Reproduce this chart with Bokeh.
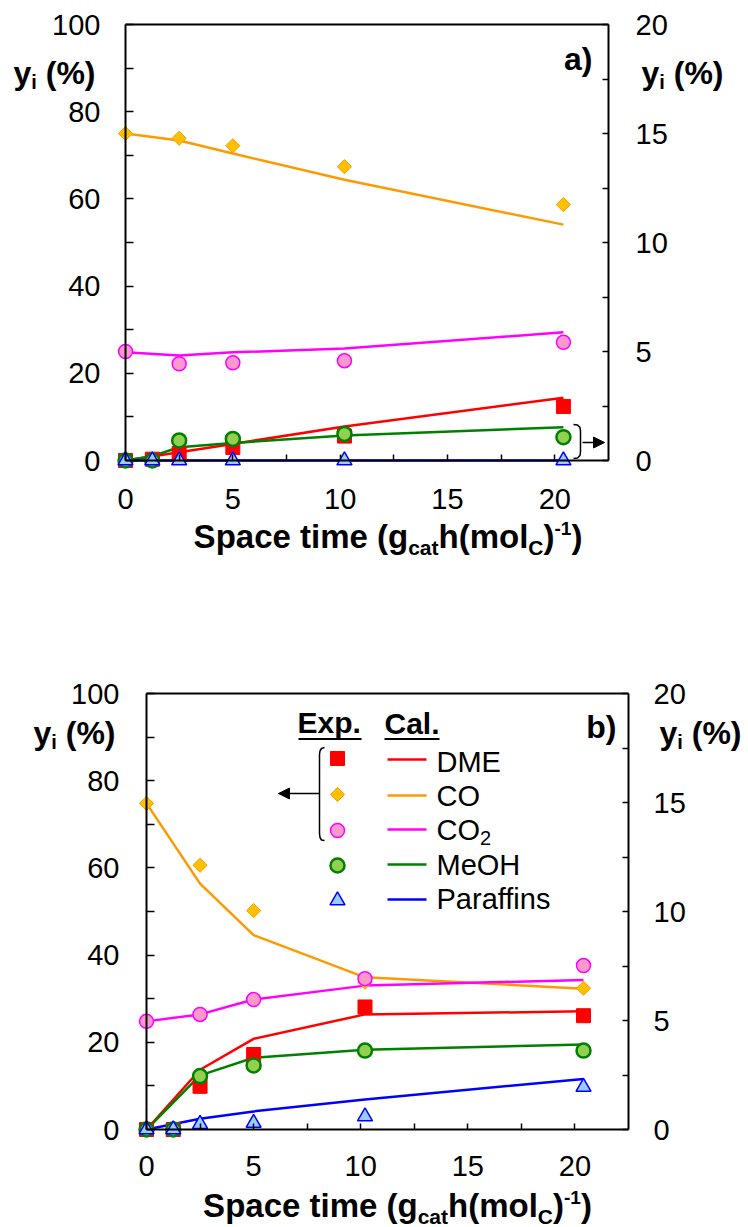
from bokeh.plotting import figure
from bokeh.models import Range1d, LinearAxis, FixedTicker, Label, Arrow, NormalHead
from bokeh.layouts import column
from bokeh.embed import file_html
from bokeh.resources import INLINE

# ---------------- data ----------------
# x (space time) values
x_exp6 = [0, 1.25, 2.5, 5, 10.2, 20.4]
x_exp5 = [0, 2.5, 5, 10.2, 20.4]
x_cal5 = [0, 2.5, 5, 10.2, 20.4]
x_cal6 = [0, 1.25, 2.5, 5, 10.2, 20.4]

# panel a) -- DME, CO, CO2 on left axis; MeOH, Paraffins on right axis
a_dme_exp = [0, 0.3, 1.6, 3.0, 5.6, 12.4]
a_dme_cal = [0, 1.9, 3.8, 7.8, 14.4]
a_co_exp = [75.0, 73.9, 72.2, 67.4, 58.7]
a_co_cal = [75.0, 73.4, 70.4, 64.4, 54.1]
a_co2_exp = [25.0, 22.2, 22.4, 22.9, 27.1]
a_co2_cal = [24.8, 24.1, 24.8, 25.7, 29.4]
a_meoh_exp = [0, 0, 0.92, 0.99, 1.22, 1.07]
a_meoh_cal = [0, 0.2, 0.61, 0.8, 1.15, 1.53]
a_par_exp = [0, 0, 0, 0, 0, 0]
a_par_cal = [0, 0, 0, 0, 0]

# panel b)
b_dme_exp = [0, 0, 9.9, 17.2, 28.1, 26.1]
b_dme_cal = [0, 13.7, 20.8, 26.4, 27.1]
b_co_exp = [74.8, 60.6, 50.2, 33.8, 32.4]
b_co_cal = [74.8, 56.4, 44.6, 34.9, 32.3]
b_co2_exp = [24.8, 26.4, 29.8, 34.6, 37.6]
b_co2_cal = [24.8, 26.4, 29.8, 33.0, 34.3]
b_meoh_exp = [0, 0, 2.45, 2.94, 3.62, 3.62]
b_meoh_cal = [0, 2.48, 3.29, 3.66, 3.9]
b_par_exp = [0, 0, 0.25, 0.3, 0.6, 1.95]
b_par_cal = [0, 0.49, 0.83, 1.38, 2.32]

x_ticks = [0, 5, 10, 15, 20]
x_minor = [2.5, 7.5, 12.5, 17.5]
yl_ticks = [0, 20, 40, 60, 80, 100]
yl_minor = [10, 30, 50, 70, 90]
yr_ticks = [0, 5, 10, 15, 20]
yr_minor = [2.5, 7.5, 12.5, 17.5]
X_MAX, YL_MAX, YR_MAX = 22.5, 100.0, 20.0

species = ["DME", "CO", "CO2", "MeOH", "Paraffins"]

# ---------------- styles ----------------
FONT = "Liberation Sans"
LINE_COL = {"DME": "#FF0000", "CO": "#FF9900", "CO2": "#FF00FF",
            "MeOH": "#008000", "Paraffins": "#0000FF"}
MK = {
    "DME": dict(marker="square", size=14, fill_color="#FF0000", line_color="#FF0000", line_width=1, angle=0.0),
    "CO": dict(marker="square", size=10, fill_color="#FFC000", line_color="#FF9900", line_width=1, angle=0.785398),
    "CO2": dict(marker="circle", size=14, fill_color="#FF99CC", line_color="#FF00FF", line_width=1.5, angle=0.0),
    "MeOH": dict(marker="circle", size=14, fill_color="#92D050", line_color="#008000", line_width=2.5, angle=0.0),
    "Paraffins": dict(marker="triangle", size=15, fill_color="#99CCFF", line_color="#0000FF", line_width=1.5, angle=0.0),
}

BOLD_W = {'S': 667, 'p': 611, 'a': 556, 'c': 556, 'e': 556, ' ': 278, 't': 333, 'i': 278,
          'm': 889, '(': 333, ')': 333, 'g': 611, 'h': 611, 'o': 611, 'l': 278, 'C': 722,
          '-': 333, '1': 556, 'y': 556, '%': 889, 'E': 667, 'x': 556, '.': 278, 'b': 611}
REG_W = {'D': 722, 'M': 833, 'E': 667, 'C': 722, 'O': 778, '2': 556, 'e': 556, 'H': 722,
         'P': 667, 'a': 556, 'r': 333, 'f': 278, 'i': 222, 'n': 556, 's': 500, ' ': 278}
BASE_K = 0.37  # shift so that the requested y is the alphabetic baseline


def text_w(t, size, bold):
    tab = BOLD_W if bold else REG_W
    return sum(tab.get(ch, 556) for ch in t) / 1000.0 * size


class Panel:
    """A figure whose frame covers its whole canvas; axes are placed with fixed_location."""

    def __init__(self, top, H, L, R, T, B):
        self.top, self.L, self.R, self.T, self.B = top, L, R, T, B
        self.fw, self.fh = R - L, B - T
        xr = Range1d(self.x(0), self.x(748))
        yr = Range1d(self.y(top + H), self.y(top))
        p = figure(frame_width=748, frame_height=H, min_border=0,
                   x_range=xr, y_range=yr,
                   output_backend="svg", toolbar_location=None,
                   background_fill_color="white", border_fill_color="white")
        k = YR_MAX / YL_MAX
        p.extra_y_ranges = {"right": Range1d(self.y(top + H) * k, self.y(top) * k)}
        p.xgrid.visible = False
        p.ygrid.visible = False
        p.outline_line_color = None
        self.p = p

    def x(self, X):
        return (X - self.L) / self.fw * X_MAX

    def y(self, Y):
        return (self.B - Y) / self.fh * YL_MAX

    def label(self, X, Y, text, size, bold=False, align="left"):
        self.p.add_layout(Label(x=self.x(X), y=self.y(Y - BASE_K * size), text=text,
                                text_font=FONT, text_font_size=f"{size}px",
                                text_font_style="bold" if bold else "normal",
                                text_align=align, text_baseline="alphabetic",
                                text_color="black"))

    def rich(self, X, Y, pieces, bold=True, center=False):
        total = sum(text_w(t, s, bold) for t, s, d in pieces)
        if center:
            X = X - total / 2.0
        for t, s, d in pieces:
            stripped = t.lstrip(" ")
            X += text_w(t[:len(t) - len(stripped)], s, bold)
            self.label(X, Y + d, stripped, s, bold)
            X += text_w(stripped, s, bold)


def style_axes(pan, left_standoff, right_standoff, bottom_standoff):
    p = pan.p
    common = dict(axis_line_color="black", axis_line_width=2,
                  major_tick_line_color="black", minor_tick_line_color="black",
                  major_tick_line_width=1.5, minor_tick_line_width=1.5,
                  major_tick_out=0, minor_tick_out=0,
                  major_label_text_font=FONT, major_label_text_font_size="29px",
                  major_label_text_color="black")
    xa = p.xaxis[0]
    xa.ticker = FixedTicker(ticks=x_ticks, minor_ticks=x_minor)
    for k, v in common.items():
        setattr(xa, k, v)
    xa.fixed_location = 0
    xa.bounds = (0, X_MAX)
    xa.major_tick_in = 6
    xa.minor_tick_in = 6
    xa.major_label_standoff = bottom_standoff

    ya = p.yaxis[0]
    ya.ticker = FixedTicker(ticks=yl_ticks, minor_ticks=yl_minor)
    for k, v in common.items():
        setattr(ya, k, v)
    ya.fixed_location = 0
    ya.bounds = (0, YL_MAX)
    ya.major_tick_in = 8
    ya.minor_tick_in = 8
    ya.major_label_standoff = left_standoff

    ra = LinearAxis(y_range_name="right",
                    ticker=FixedTicker(ticks=yr_ticks, minor_ticks=yr_minor))
    for k, v in common.items():
        setattr(ra, k, v)
    ra.fixed_location = X_MAX
    ra.bounds = (0, YR_MAX)
    ra.major_tick_in = 6
    ra.minor_tick_in = 6
    ra.major_label_standoff = right_standoff
    p.add_layout(ra, "right")
    # top border of the plot area
    p.line([0, X_MAX], [YL_MAX, YL_MAX], line_color="black", line_width=2)


def draw_data(pan, cal, exp):
    p = pan.p
    for sp in species:
        xs, ys, rng = cal[sp]
        p.line(xs, ys, line_color=LINE_COL[sp], line_width=2.5, y_range_name=rng)
    for sp in species:
        xs, ys, rng = exp[sp]
        p.scatter(xs, ys, y_range_name=rng, **MK[sp])


def bracket(pan, pts):
    pan.p.line([pan.x(a) for a, b in pts], [pan.y(b) for a, b in pts],
               line_color="black", line_width=1.5)


def arrow(pan, X0, X1, Y):
    pan.p.add_layout(Arrow(end=NormalHead(size=11, fill_color="black", line_color="black"),
                           x_start=pan.x(X0), y_start=pan.y(Y), x_end=pan.x(X1), y_end=pan.y(Y),
                           line_color="black", line_width=1.5))


ylab = [("y", 32, 0), ("i", 20, 5), (" (%)", 32, 0)]
xlab = [("Space time (g", 33, 0), ("cat", 21, 7), ("h(mol", 33, 0), ("C", 21, 7),
        (")", 33, 0), ("-1", 19, -13), (")", 33, 0)]

# ---------------- panel a ----------------
pa = Panel(top=0, H=613, L=125, R=608, T=24, B=460)
style_axes(pa, 25, 27, 28)
draw_data(pa,
          {"DME": (x_cal5, a_dme_cal, "default"), "CO": (x_cal5, a_co_cal, "default"),
           "CO2": (x_cal5, a_co2_cal, "default"), "MeOH": (x_cal6, a_meoh_cal, "right"),
           "Paraffins": (x_cal5, a_par_cal, "right")},
          {"DME": (x_exp6, a_dme_exp, "default"), "CO": (x_exp5, a_co_exp, "default"),
           "CO2": (x_exp5, a_co2_exp, "default"), "MeOH": (x_exp6, a_meoh_exp, "right"),
           "Paraffins": (x_exp6, a_par_exp, "right")})
bracket(pa, [(573, 424), (577, 424.5), (579.5, 427), (580, 431), (580, 451),
             (579.5, 455), (577, 457.5), (573, 458)])
arrow(pa, 582, 604, 442)
pa.rich(13, 84, ylab)
pa.rich(641, 84, ylab)
pa.label(592, 70, "a)", 32, bold=True, align="right")
pa.rich(387.5, 548, xlab, center=True)

# ---------------- panel b ----------------
pb = Panel(top=613, H=614, L=146, R=628, T=693, B=1129)
style_axes(pb, 27, 25, 26)
draw_data(pb,
          {"DME": (x_cal5, b_dme_cal, "default"), "CO": (x_cal5, b_co_cal, "default"),
           "CO2": (x_cal5, b_co2_cal, "default"), "MeOH": (x_cal5, b_meoh_cal, "right"),
           "Paraffins": (x_cal5, b_par_cal, "right")},
          {"DME": (x_exp6, b_dme_exp, "default"), "CO": (x_exp5, b_co_exp, "default"),
           "CO2": (x_exp5, b_co2_exp, "default"), "MeOH": (x_exp6, b_meoh_exp, "right"),
           "Paraffins": (x_exp6, b_par_exp, "right")})
pb.rich(33, 744, ylab)
pb.rich(659, 744, ylab)
pb.label(616, 738, "b)", 32, bold=True, align="right")
pb.rich(397, 1217, xlab, center=True)

# legend (manual)
leg_mk_y = [758, 794, 830, 865, 900]
leg_ln_y = [759, 795, 829, 864, 899]
leg_tx_y = [772, 806, 840, 875, 909]
for sp, my, ly in zip(species, leg_mk_y, leg_ln_y):
    pb.p.scatter([pb.x(337)], [pb.y(my)], **MK[sp])
    pb.p.line([pb.x(387), pb.x(426)], [pb.y(ly), pb.y(ly)], line_color=LINE_COL[sp], line_width=2.5)
leg_text = {"DME": [("DME", 29, 0)], "CO": [("CO", 29, 0)],
            "CO2": [("CO", 29, 0), ("2", 20, 5)], "MeOH": [("MeOH", 29, 0)],
            "Paraffins": [("Paraffins", 29, 0)]}
for sp, ty in zip(species, leg_tx_y):
    pb.rich(436, ty, leg_text[sp], bold=False)
pb.label(297, 733, "Exp.", 30, bold=True)
pb.label(384, 734, "Cal.", 30, bold=True)
for x0, x1 in [(298, 361), (384, 439)]:
    pb.p.line([pb.x(x0), pb.x(x1)], [pb.y(738.5), pb.y(738.5)], line_color="black", line_width=2)
bracket(pb, [(324, 747), (321, 748), (319.5, 750.5), (319, 754), (319, 833),
             (319.5, 837), (321, 839.5), (324, 840)])
arrow(pb, 319, 278, 793)

layout = column(pa.p, pb.p, spacing=0)
open("out.html", "w").write(file_html(layout, INLINE))
